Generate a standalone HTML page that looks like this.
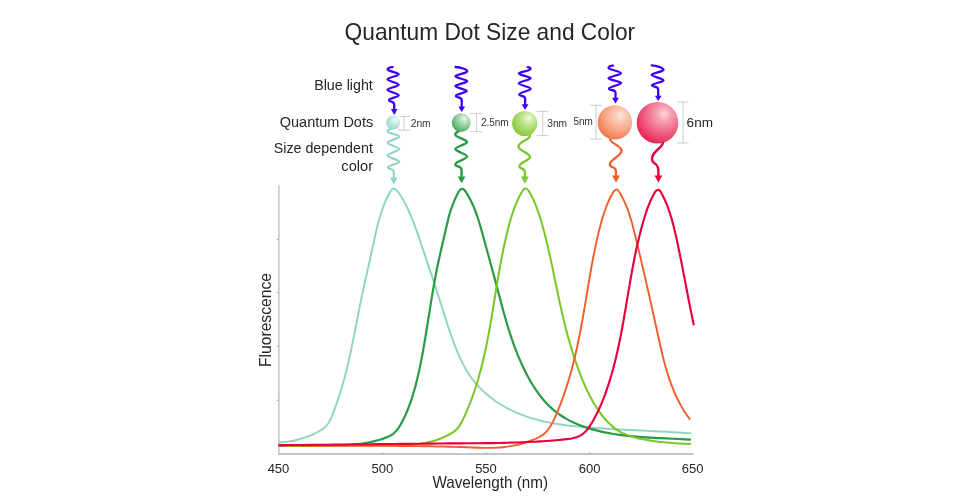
<!DOCTYPE html>
<html><head><meta charset="utf-8"><title>Quantum Dot Size and Color</title>
<style>
html,body{margin:0;padding:0;background:#fff;}
body{width:980px;height:500px;overflow:hidden;}
svg{display:block;}
text{font-family:"Liberation Sans",sans-serif;fill:#262626;}
.sm text{fill:#363636;}
</style></head><body>
<svg width="980" height="500" viewBox="0 0 980 500">
<defs>
<radialGradient id="gT" cx="0.64" cy="0.32" r="0.82" fx="0.66" fy="0.29"><stop offset="0" stop-color="#f2fbf9"/><stop offset="0.25" stop-color="#d3efe9"/><stop offset="0.6" stop-color="#b3e2d8"/><stop offset="0.85" stop-color="#9cd9cb"/><stop offset="1" stop-color="#8fd4c5"/></radialGradient>
<radialGradient id="gG" cx="0.64" cy="0.32" r="0.82" fx="0.66" fy="0.29"><stop offset="0" stop-color="#ecf7ee"/><stop offset="0.25" stop-color="#b9e0c0"/><stop offset="0.58" stop-color="#7fc58d"/><stop offset="0.85" stop-color="#47a95e"/><stop offset="1" stop-color="#2a9a47"/></radialGradient>
<radialGradient id="gL" cx="0.64" cy="0.32" r="0.82" fx="0.66" fy="0.29"><stop offset="0" stop-color="#f4fbe8"/><stop offset="0.22" stop-color="#cdeaa5"/><stop offset="0.55" stop-color="#a6d96a"/><stop offset="0.82" stop-color="#8bcd40"/><stop offset="1" stop-color="#7ac528"/></radialGradient>
<radialGradient id="gO" cx="0.64" cy="0.32" r="0.84" fx="0.66" fy="0.29"><stop offset="0" stop-color="#fee8dd"/><stop offset="0.22" stop-color="#fbc7b2"/><stop offset="0.55" stop-color="#f7a283"/><stop offset="0.82" stop-color="#f27b52"/><stop offset="1" stop-color="#ee5d2c"/></radialGradient>
<radialGradient id="gR" cx="0.64" cy="0.32" r="0.84" fx="0.66" fy="0.29"><stop offset="0" stop-color="#fcd9e0"/><stop offset="0.22" stop-color="#f59db2"/><stop offset="0.55" stop-color="#ee5f80"/><stop offset="0.82" stop-color="#e82c59"/><stop offset="1" stop-color="#e20a40"/></radialGradient>
</defs>
<rect width="980" height="500" fill="#fff"/>
<text x="344.6" y="40.4" font-size="23.6" textLength="290.6" lengthAdjust="spacingAndGlyphs">Quantum Dot Size and Color</text>
<g font-size="14.7" lengthAdjust="spacingAndGlyphs">
<text x="314.2" y="90.4" textLength="58.6" lengthAdjust="spacingAndGlyphs">Blue light</text>
<text x="279.8" y="126.5" textLength="93.4" lengthAdjust="spacingAndGlyphs">Quantum Dots</text>
<text x="273.7" y="153.0" textLength="99.2" lengthAdjust="spacingAndGlyphs">Size dependent</text>
<text x="341.3" y="170.5" textLength="31.8" lengthAdjust="spacingAndGlyphs">color</text>
</g>
<g font-size="10" class="sm">
<text x="410.7" y="126.6" textLength="20" lengthAdjust="spacingAndGlyphs">2nm</text>
<text x="480.9" y="126.0" textLength="27.8" lengthAdjust="spacingAndGlyphs">2.5nm</text>
<text x="547.3" y="126.6" textLength="19.8" lengthAdjust="spacingAndGlyphs">3nm</text>
<text x="573.4" y="125.2" textLength="19.4" lengthAdjust="spacingAndGlyphs">5nm</text>
</g>
<text x="686.6" y="127" font-size="13" textLength="26.4" lengthAdjust="spacingAndGlyphs">6nm</text>
<path d="M278.9 185.3V454.8" fill="none" stroke="#b6b6b6" stroke-width="1.2"/><path d="M278.3 454.1H693.4" fill="none" stroke="#b2b2b2" stroke-width="1.5"/>
<path d="M276.6 239.4H278.9M276.6 292.6H278.9M276.6 346.2H278.9M276.6 400.3H278.9M382.4 452.2V454.1M486.2 452.2V454.1M589.8 452.2V454.1" stroke="#999" stroke-width="0.8" fill="none"/>
<path d="M278.50 442.64C280.62 442.48 282.68 442.28 284.71 442.03C286.73 441.79 288.72 441.50 290.68 441.16C292.65 440.82 294.59 440.42 296.52 439.97C298.46 439.51 300.39 439.00 302.32 438.41C304.26 437.82 306.20 437.17 308.13 436.45C310.05 435.72 311.95 434.94 313.80 434.08C315.64 433.23 317.44 432.30 319.16 431.26C320.89 430.22 322.55 429.06 324.13 427.73C325.70 426.40 327.18 424.91 328.32 423.30C329.45 421.70 330.28 419.98 331.09 418.18C331.90 416.37 332.66 414.47 333.39 412.53C334.12 410.60 334.83 408.63 335.51 406.68C336.20 404.72 336.88 402.78 337.53 400.84C338.19 398.91 338.83 396.98 339.45 395.05C340.07 393.12 340.68 391.20 341.26 389.27C341.85 387.34 342.42 385.41 342.98 383.47C343.53 381.53 344.07 379.59 344.59 377.64C345.12 375.70 345.62 373.75 346.12 371.79C346.61 369.84 347.09 367.88 347.56 365.91C348.03 363.95 348.49 361.98 348.94 360.01C349.39 358.05 349.82 356.07 350.25 354.10C350.68 352.12 351.10 350.14 351.52 348.16C351.93 346.18 352.34 344.20 352.74 342.22C353.14 340.23 353.53 338.25 353.93 336.26C354.32 334.28 354.71 332.29 355.09 330.30C355.48 328.31 355.87 326.32 356.25 324.33C356.63 322.34 357.02 320.35 357.40 318.36C357.79 316.37 358.17 314.38 358.56 312.40C358.95 310.41 359.34 308.42 359.74 306.43C360.13 304.45 360.54 302.46 360.94 300.48C361.35 298.49 361.76 296.51 362.18 294.53C362.60 292.55 363.03 290.57 363.46 288.60C363.89 286.62 364.33 284.64 364.77 282.67C365.21 280.70 365.65 278.72 366.10 276.75C366.54 274.78 366.99 272.81 367.43 270.83C367.88 268.86 368.33 266.89 368.77 264.92C369.22 262.95 369.66 260.97 370.10 259.00C370.54 257.03 370.97 255.05 371.40 253.08C371.83 251.10 372.25 249.13 372.67 247.15C373.09 245.17 373.51 243.20 373.94 241.22C374.36 239.24 374.79 237.27 375.23 235.30C375.67 233.33 376.12 231.36 376.59 229.39C377.06 227.43 377.54 225.47 378.05 223.52C378.56 221.56 379.10 219.62 379.66 217.68C380.23 215.74 380.82 213.81 381.46 211.88C382.09 209.96 382.76 208.05 383.47 206.15C384.19 204.25 384.94 202.36 385.76 200.50C386.57 198.64 387.44 196.81 388.37 195.03C389.31 193.25 390.30 191.49 391.53 189.82C392.76 188.15 395.09 188.64 396.49 190.14C397.89 191.64 399.11 193.25 400.23 194.93C401.35 196.60 402.37 198.35 403.35 200.12C404.33 201.90 405.26 203.70 406.17 205.52C407.07 207.33 407.93 209.17 408.77 211.02C409.60 212.86 410.41 214.72 411.19 216.58C411.97 218.45 412.72 220.32 413.46 222.20C414.19 224.08 414.90 225.97 415.60 227.87C416.29 229.77 416.97 231.67 417.64 233.58C418.30 235.48 418.96 237.39 419.61 239.31C420.26 241.22 420.90 243.14 421.53 245.06C422.17 246.98 422.81 248.90 423.45 250.82C424.09 252.75 424.73 254.67 425.37 256.59C426.01 258.51 426.66 260.43 427.30 262.35C427.95 264.27 428.60 266.20 429.24 268.12C429.89 270.04 430.54 271.96 431.18 273.88C431.82 275.80 432.47 277.73 433.11 279.65C433.75 281.57 434.38 283.49 435.02 285.42C435.65 287.34 436.28 289.26 436.90 291.18C437.52 293.11 438.14 295.03 438.75 296.96C439.36 298.88 439.97 300.80 440.57 302.73C441.18 304.65 441.78 306.58 442.38 308.50C442.98 310.43 443.58 312.35 444.19 314.27C444.79 316.20 445.40 318.12 446.02 320.04C446.63 321.96 447.25 323.88 447.88 325.80C448.51 327.72 449.15 329.64 449.80 331.56C450.45 333.47 451.12 335.39 451.79 337.30C452.47 339.21 453.16 341.12 453.88 343.03C454.59 344.94 455.32 346.84 456.08 348.73C456.83 350.62 457.62 352.51 458.43 354.37C459.24 356.24 460.08 358.09 460.96 359.92C461.83 361.75 462.74 363.56 463.70 365.34C464.65 367.13 465.64 368.88 466.68 370.61C467.72 372.34 468.81 374.04 469.94 375.70C471.08 377.36 472.27 378.99 473.51 380.57C474.75 382.16 476.05 383.70 477.40 385.21C478.76 386.71 480.16 388.17 481.61 389.59C483.05 391.01 484.55 392.39 486.08 393.72C487.62 395.05 489.20 396.34 490.81 397.59C492.42 398.83 494.07 400.04 495.75 401.19C497.42 402.35 499.13 403.46 500.87 404.53C502.60 405.59 504.36 406.61 506.14 407.59C507.92 408.56 509.72 409.49 511.54 410.37C513.36 411.25 515.19 412.08 517.04 412.87C518.89 413.66 520.75 414.41 522.63 415.11C524.51 415.82 526.40 416.49 528.31 417.11C530.21 417.74 532.13 418.33 534.06 418.89C535.99 419.44 537.93 419.97 539.89 420.45C541.84 420.94 543.80 421.40 545.77 421.83C547.74 422.26 549.72 422.65 551.71 423.03C553.70 423.40 555.69 423.74 557.69 424.07C559.70 424.39 561.70 424.69 563.72 424.96C565.73 425.24 567.75 425.50 569.77 425.74C571.79 425.98 573.81 426.20 575.84 426.40C577.87 426.61 579.90 426.80 581.93 426.97C583.96 427.15 585.99 427.32 588.02 427.47C590.05 427.63 592.08 427.77 594.11 427.91C596.14 428.05 598.17 428.19 600.19 428.31C602.22 428.44 604.24 428.57 606.26 428.69C608.28 428.81 610.30 428.92 612.31 429.04C614.33 429.15 616.34 429.26 618.36 429.37C620.37 429.47 622.38 429.58 624.39 429.68C626.41 429.79 628.42 429.89 630.43 429.99C632.44 430.09 634.45 430.19 636.46 430.29C638.47 430.39 640.48 430.48 642.49 430.58C644.50 430.68 646.51 430.78 648.53 430.88C650.54 430.98 652.55 431.08 654.57 431.19C656.58 431.29 658.60 431.39 660.62 431.50C662.64 431.60 664.66 431.71 666.69 431.83C668.71 431.94 670.74 432.05 672.77 432.17C674.79 432.29 676.83 432.41 678.86 432.54C680.90 432.66 682.94 432.79 684.98 432.93C687.03 433.06 689.07 433.20 691.12 433.35" fill="none" stroke="#8fd4c5" stroke-width="1.95" stroke-linecap="butt" stroke-linejoin="round"/>
<path d="M278.62 445.84C280.64 445.68 282.66 445.56 284.68 445.46C286.71 445.36 288.73 445.28 290.76 445.23C292.78 445.17 294.81 445.14 296.84 445.12C298.87 445.10 300.90 445.10 302.93 445.11C304.96 445.12 306.99 445.14 309.02 445.16C311.05 445.18 313.08 445.21 315.11 445.24C317.14 445.27 319.17 445.30 321.20 445.32C323.23 445.34 325.25 445.36 327.28 445.37C329.31 445.37 331.34 445.37 333.36 445.35C335.39 445.33 337.41 445.30 339.43 445.25C341.45 445.19 343.47 445.11 345.49 445.01C347.51 444.91 349.52 444.78 351.54 444.62C353.55 444.46 355.56 444.27 357.57 444.05C359.57 443.82 361.58 443.56 363.58 443.25C365.58 442.95 367.58 442.60 369.57 442.21C371.56 441.82 373.55 441.38 375.54 440.89C377.53 440.39 379.51 439.85 381.47 439.22C383.43 438.59 385.38 437.88 387.29 437.06C389.20 436.25 391.02 435.35 392.58 434.30C394.13 433.25 395.56 431.79 396.86 430.18C398.16 428.56 399.32 426.83 400.37 425.04C401.43 423.26 402.39 421.43 403.30 419.59C404.20 417.76 405.06 415.92 405.86 414.07C406.67 412.22 407.44 410.36 408.18 408.49C408.91 406.61 409.61 404.72 410.28 402.82C410.96 400.92 411.60 399.00 412.21 397.08C412.83 395.15 413.42 393.22 413.98 391.28C414.54 389.33 415.08 387.38 415.60 385.42C416.12 383.46 416.62 381.50 417.10 379.52C417.58 377.55 418.04 375.57 418.48 373.59C418.93 371.61 419.36 369.63 419.77 367.64C420.19 365.65 420.60 363.66 420.99 361.67C421.39 359.68 421.77 357.69 422.15 355.69C422.52 353.70 422.89 351.70 423.25 349.71C423.61 347.71 423.96 345.72 424.30 343.72C424.65 341.72 424.98 339.72 425.32 337.72C425.65 335.72 425.98 333.72 426.30 331.72C426.63 329.72 426.95 327.72 427.27 325.72C427.59 323.71 427.91 321.71 428.22 319.71C428.54 317.71 428.85 315.71 429.17 313.70C429.49 311.70 429.80 309.70 430.12 307.70C430.44 305.70 430.76 303.70 431.08 301.70C431.41 299.70 431.74 297.70 432.07 295.70C432.40 293.70 432.74 291.71 433.08 289.71C433.42 287.71 433.77 285.72 434.13 283.72C434.49 281.73 434.85 279.74 435.23 277.75C435.60 275.76 435.98 273.77 436.38 271.78C436.77 269.79 437.17 267.80 437.59 265.82C438.00 263.84 438.42 261.85 438.85 259.87C439.28 257.89 439.72 255.91 440.16 253.93C440.61 251.95 441.06 249.97 441.51 247.99C441.96 246.01 442.42 244.04 442.88 242.06C443.34 240.08 443.80 238.10 444.26 236.13C444.72 234.15 445.18 232.17 445.64 230.19C446.10 228.21 446.56 226.24 447.02 224.26C447.48 222.28 447.93 220.30 448.41 218.33C448.89 216.36 449.41 214.41 449.99 212.48C450.57 210.55 451.22 208.65 451.92 206.76C452.63 204.88 453.39 203.00 454.18 201.12C454.98 199.25 455.81 197.36 456.70 195.55C457.59 193.74 458.54 192.02 459.70 190.26C460.87 188.51 463.13 188.39 464.45 190.00C465.77 191.62 466.81 193.35 467.83 195.09C468.86 196.83 469.82 198.60 470.72 200.40C471.62 202.20 472.47 204.03 473.27 205.88C474.07 207.74 474.82 209.61 475.53 211.51C476.24 213.40 476.92 215.31 477.56 217.24C478.20 219.16 478.82 221.10 479.41 223.05C480.00 225.00 480.57 226.96 481.12 228.92C481.68 230.88 482.22 232.85 482.76 234.82C483.30 236.79 483.83 238.75 484.37 240.72C484.90 242.68 485.44 244.64 485.98 246.60C486.51 248.56 487.05 250.52 487.58 252.48C488.12 254.43 488.66 256.39 489.19 258.34C489.72 260.29 490.26 262.25 490.79 264.20C491.32 266.15 491.85 268.10 492.38 270.06C492.91 272.01 493.44 273.96 493.97 275.91C494.49 277.86 495.02 279.82 495.54 281.77C496.06 283.73 496.58 285.68 497.09 287.64C497.61 289.59 498.13 291.55 498.64 293.51C499.16 295.46 499.68 297.42 500.20 299.38C500.71 301.34 501.24 303.29 501.76 305.25C502.29 307.20 502.82 309.16 503.36 311.11C503.90 313.06 504.44 315.01 505.00 316.96C505.55 318.90 506.12 320.85 506.69 322.79C507.27 324.73 507.85 326.66 508.45 328.60C509.05 330.53 509.66 332.46 510.29 334.38C510.91 336.30 511.56 338.22 512.22 340.13C512.88 342.05 513.55 343.95 514.25 345.85C514.94 347.75 515.66 349.65 516.40 351.53C517.13 353.42 517.89 355.30 518.68 357.17C519.46 359.04 520.26 360.90 521.10 362.76C521.93 364.61 522.78 366.46 523.67 368.29C524.55 370.13 525.47 371.96 526.41 373.77C527.35 375.59 528.32 377.40 529.33 379.19C530.33 380.97 531.37 382.75 532.44 384.50C533.52 386.25 534.62 387.97 535.77 389.67C536.91 391.36 538.09 393.03 539.31 394.65C540.53 396.28 541.80 397.87 543.10 399.42C544.40 400.97 545.75 402.47 547.14 403.93C548.53 405.38 549.96 406.79 551.45 408.13C552.93 409.48 554.46 410.77 556.04 412.00C557.62 413.22 559.25 414.39 560.92 415.49C562.59 416.60 564.30 417.65 566.06 418.64C567.81 419.63 569.60 420.57 571.41 421.45C573.23 422.33 575.08 423.17 576.96 423.95C578.84 424.74 580.74 425.48 582.66 426.17C584.58 426.86 586.52 427.51 588.47 428.12C590.42 428.73 592.39 429.30 594.36 429.83C596.33 430.36 598.31 430.86 600.29 431.32C602.28 431.78 604.26 432.21 606.25 432.61C608.24 433.01 610.24 433.38 612.23 433.72C614.23 434.06 616.23 434.37 618.23 434.66C620.24 434.95 622.24 435.22 624.25 435.46C626.26 435.70 628.27 435.93 630.29 436.13C632.30 436.33 634.32 436.52 636.33 436.69C638.35 436.86 640.37 437.01 642.39 437.15C644.41 437.30 646.43 437.43 648.46 437.55C650.48 437.67 652.51 437.78 654.53 437.88C656.56 437.99 658.58 438.09 660.61 438.18C662.63 438.28 664.66 438.37 666.69 438.46C668.71 438.55 670.74 438.64 672.77 438.73C674.79 438.83 676.82 438.92 678.84 439.02C680.87 439.12 682.89 439.23 684.92 439.35C686.94 439.46 688.96 439.59 690.98 439.72" fill="none" stroke="#2a9a47" stroke-width="2.20" stroke-linecap="butt" stroke-linejoin="round"/>
<path d="M278.53 445.56C280.58 445.62 282.63 445.68 284.67 445.72C286.72 445.77 288.76 445.80 290.80 445.83C292.84 445.86 294.88 445.88 296.91 445.89C298.95 445.90 300.98 445.91 303.01 445.91C305.04 445.91 307.08 445.90 309.11 445.89C311.13 445.88 313.16 445.86 315.19 445.84C317.22 445.82 319.24 445.80 321.27 445.77C323.29 445.75 325.32 445.72 327.34 445.69C329.37 445.66 331.39 445.63 333.42 445.59C335.44 445.56 337.47 445.53 339.49 445.50C341.52 445.47 343.54 445.44 345.57 445.41C347.59 445.38 349.62 445.35 351.65 445.33C353.67 445.30 355.70 445.28 357.73 445.27C359.76 445.25 361.79 445.24 363.82 445.23C365.85 445.22 367.89 445.22 369.92 445.23C371.96 445.23 374.00 445.24 376.04 445.26C378.07 445.28 380.12 445.30 382.16 445.33C384.20 445.36 386.25 445.39 388.29 445.41C390.33 445.43 392.37 445.44 394.41 445.44C396.45 445.44 398.49 445.42 400.52 445.37C402.56 445.33 404.59 445.26 406.61 445.16C408.63 445.06 410.65 444.93 412.66 444.75C414.67 444.57 416.68 444.36 418.67 444.09C420.67 443.82 422.65 443.51 424.63 443.13C426.61 442.76 428.57 442.33 430.52 441.83C432.47 441.33 434.41 440.77 436.32 440.13C438.24 439.49 440.13 438.79 442.00 438.00C443.88 437.21 445.72 436.35 447.54 435.39C449.36 434.44 451.15 433.40 452.88 432.30C454.61 431.20 456.17 430.01 457.41 428.48C458.64 426.95 459.84 425.21 460.89 423.41C461.94 421.61 462.84 419.76 463.71 417.91C464.58 416.05 465.42 414.19 466.24 412.32C467.06 410.45 467.85 408.57 468.62 406.68C469.39 404.80 470.14 402.91 470.86 401.01C471.58 399.11 472.28 397.21 472.96 395.30C473.64 393.39 474.29 391.47 474.93 389.55C475.56 387.63 476.18 385.70 476.78 383.77C477.37 381.84 477.95 379.90 478.51 377.96C479.07 376.01 479.62 374.06 480.14 372.11C480.67 370.16 481.18 368.20 481.67 366.24C482.17 364.28 482.65 362.32 483.12 360.35C483.58 358.38 484.04 356.40 484.48 354.43C484.92 352.45 485.35 350.47 485.76 348.49C486.18 346.51 486.59 344.52 486.98 342.53C487.38 340.54 487.77 338.55 488.15 336.56C488.52 334.56 488.89 332.56 489.26 330.57C489.62 328.57 489.98 326.57 490.33 324.57C490.68 322.56 491.02 320.56 491.36 318.55C491.70 316.55 492.04 314.54 492.37 312.54C492.70 310.53 493.03 308.52 493.36 306.51C493.69 304.50 494.01 302.49 494.34 300.48C494.66 298.47 494.99 296.46 495.31 294.45C495.64 292.44 495.97 290.44 496.29 288.43C496.62 286.42 496.95 284.41 497.29 282.40C497.62 280.39 497.96 278.39 498.30 276.38C498.64 274.38 498.99 272.37 499.34 270.37C499.70 268.37 500.06 266.37 500.42 264.37C500.79 262.37 501.16 260.37 501.55 258.38C501.93 256.38 502.32 254.39 502.72 252.40C503.12 250.41 503.54 248.42 503.96 246.44C504.38 244.46 504.82 242.48 505.26 240.50C505.71 238.52 506.17 236.55 506.64 234.58C507.12 232.61 507.61 230.64 508.11 228.68C508.61 226.72 509.13 224.76 509.68 222.81C510.22 220.86 510.79 218.91 511.38 216.98C511.98 215.04 512.60 213.11 513.26 211.20C513.92 209.28 514.62 207.37 515.36 205.48C516.09 203.58 516.88 201.71 517.72 199.86C518.56 198.01 519.46 196.18 520.44 194.40C521.43 192.63 522.37 190.88 523.77 189.27C525.18 187.66 527.33 188.98 528.48 190.66C529.63 192.35 530.62 194.10 531.56 195.90C532.50 197.70 533.36 199.54 534.18 201.40C534.99 203.26 535.75 205.14 536.47 207.04C537.19 208.94 537.88 210.85 538.53 212.77C539.18 214.69 539.81 216.62 540.41 218.56C541.01 220.50 541.58 222.44 542.14 224.39C542.69 226.34 543.23 228.30 543.75 230.26C544.27 232.22 544.78 234.19 545.27 236.16C545.77 238.13 546.25 240.10 546.73 242.07C547.20 244.04 547.67 246.02 548.13 248.00C548.59 249.98 549.03 251.96 549.48 253.94C549.92 255.92 550.36 257.91 550.79 259.89C551.22 261.88 551.64 263.86 552.06 265.85C552.48 267.84 552.90 269.83 553.32 271.82C553.73 273.81 554.15 275.80 554.56 277.79C554.97 279.78 555.38 281.77 555.79 283.76C556.20 285.75 556.62 287.74 557.03 289.73C557.44 291.72 557.86 293.70 558.28 295.69C558.70 297.68 559.12 299.67 559.55 301.65C559.98 303.64 560.41 305.62 560.85 307.60C561.29 309.58 561.74 311.56 562.19 313.54C562.65 315.52 563.11 317.49 563.58 319.46C564.05 321.44 564.53 323.41 565.02 325.37C565.51 327.34 566.02 329.30 566.53 331.26C567.04 333.22 567.57 335.18 568.11 337.13C568.65 339.09 569.20 341.04 569.76 342.98C570.33 344.93 570.91 346.87 571.50 348.81C572.09 350.75 572.70 352.68 573.32 354.61C573.94 356.54 574.58 358.47 575.23 360.39C575.88 362.32 576.55 364.23 577.23 366.15C577.92 368.06 578.62 369.97 579.34 371.88C580.05 373.78 580.79 375.68 581.54 377.58C582.30 379.47 583.08 381.36 583.88 383.23C584.68 385.11 585.50 386.97 586.35 388.82C587.21 390.67 588.09 392.51 589.00 394.32C589.92 396.14 590.86 397.94 591.85 399.71C592.83 401.49 593.85 403.24 594.91 404.97C595.97 406.70 597.08 408.40 598.22 410.07C599.37 411.74 600.56 413.39 601.80 415.00C603.04 416.60 604.33 418.18 605.67 419.71C607.01 421.23 608.41 422.71 609.87 424.11C611.33 425.51 612.85 426.84 614.44 428.07C616.03 429.30 617.69 430.44 619.42 431.46C621.15 432.48 622.96 433.38 624.83 434.17C626.69 434.97 628.62 435.67 630.58 436.29C632.54 436.91 634.53 437.45 636.54 437.93C638.55 438.41 640.58 438.84 642.60 439.24C644.62 439.63 646.63 439.99 648.64 440.32C650.65 440.65 652.65 440.95 654.65 441.23C656.65 441.50 658.65 441.75 660.65 441.97C662.65 442.20 664.65 442.40 666.65 442.58C668.65 442.77 670.66 442.93 672.68 443.08C674.69 443.22 676.72 443.35 678.75 443.47C680.78 443.58 682.83 443.69 684.88 443.78C686.94 443.87 689.01 443.96 691.09 444.03" fill="none" stroke="#7bc62b" stroke-width="2.05" stroke-linecap="butt" stroke-linejoin="round"/>
<path d="M278.61 445.55C280.63 445.56 282.65 445.58 284.67 445.60C286.68 445.61 288.70 445.63 290.72 445.64C292.74 445.65 294.76 445.66 296.77 445.67C298.79 445.68 300.81 445.69 302.83 445.70C304.85 445.71 306.87 445.71 308.89 445.72C310.91 445.72 312.92 445.73 314.94 445.73C316.96 445.74 318.98 445.74 321.00 445.74C323.02 445.75 325.04 445.75 327.06 445.75C329.08 445.75 331.10 445.75 333.12 445.76C335.14 445.76 337.16 445.76 339.18 445.76C341.20 445.76 343.22 445.76 345.24 445.76C347.26 445.76 349.28 445.76 351.30 445.77C353.32 445.77 355.34 445.77 357.36 445.77C359.38 445.77 361.40 445.78 363.42 445.78C365.44 445.78 367.46 445.79 369.48 445.79C371.50 445.79 373.52 445.80 375.54 445.81C377.56 445.81 379.58 445.82 381.60 445.83C383.62 445.84 385.64 445.84 387.66 445.86C389.68 445.87 391.70 445.88 393.72 445.89C395.74 445.90 397.76 445.92 399.78 445.93C401.79 445.95 403.81 445.97 405.83 445.99C407.85 446.01 409.87 446.03 411.89 446.05C413.91 446.07 415.93 446.10 417.95 446.13C419.97 446.15 421.99 446.18 424.01 446.21C426.02 446.24 428.04 446.28 430.06 446.31C432.08 446.35 434.10 446.39 436.12 446.43C438.13 446.47 440.15 446.51 442.17 446.56C444.19 446.60 446.20 446.65 448.22 446.70C450.24 446.75 452.26 446.81 454.27 446.87C456.29 446.92 458.31 446.98 460.32 447.05C462.34 447.11 464.36 447.18 466.37 447.25C468.39 447.32 470.40 447.39 472.42 447.47C474.43 447.55 476.45 447.62 478.47 447.69C480.48 447.76 482.50 447.81 484.52 447.85C486.54 447.88 488.56 447.89 490.59 447.86C492.62 447.84 494.64 447.77 496.68 447.66C498.71 447.55 500.75 447.39 502.78 447.19C504.81 446.98 506.83 446.73 508.84 446.42C510.85 446.12 512.84 445.76 514.81 445.35C516.77 444.95 518.72 444.48 520.63 443.97C522.54 443.45 524.43 442.88 526.32 442.25C528.22 441.62 530.14 440.93 532.09 440.19C534.04 439.45 536.00 438.64 537.87 437.74C539.73 436.84 541.48 435.85 543.04 434.72C544.59 433.59 545.99 432.29 547.29 430.71C548.60 429.12 549.80 427.33 550.86 425.55C551.92 423.77 552.86 421.96 553.73 420.14C554.61 418.31 555.42 416.47 556.22 414.63C557.02 412.78 557.79 410.93 558.55 409.06C559.31 407.20 560.05 405.33 560.77 403.45C561.48 401.57 562.18 399.68 562.86 397.79C563.55 395.90 564.21 394.00 564.85 392.09C565.50 390.19 566.13 388.27 566.74 386.35C567.35 384.43 567.95 382.51 568.53 380.58C569.11 378.65 569.67 376.71 570.22 374.77C570.77 372.83 571.31 370.88 571.83 368.93C572.35 366.98 572.86 365.03 573.35 363.07C573.85 361.11 574.33 359.14 574.80 357.18C575.27 355.21 575.73 353.24 576.17 351.27C576.62 349.29 577.06 347.32 577.48 345.34C577.91 343.36 578.32 341.38 578.73 339.39C579.14 337.41 579.53 335.43 579.92 333.44C580.31 331.45 580.69 329.46 581.06 327.47C581.44 325.48 581.80 323.49 582.16 321.50C582.52 319.51 582.87 317.52 583.22 315.53C583.57 313.54 583.91 311.54 584.25 309.55C584.59 307.56 584.92 305.57 585.26 303.57C585.59 301.58 585.92 299.59 586.25 297.59C586.58 295.60 586.91 293.61 587.24 291.62C587.57 289.63 587.90 287.64 588.23 285.65C588.56 283.65 588.90 281.66 589.23 279.68C589.57 277.69 589.91 275.70 590.26 273.71C590.60 271.73 590.95 269.74 591.31 267.76C591.67 265.77 592.03 263.79 592.40 261.81C592.77 259.83 593.15 257.85 593.53 255.87C593.92 253.89 594.31 251.91 594.72 249.94C595.12 247.97 595.54 245.99 595.97 244.02C596.40 242.06 596.83 240.09 597.29 238.12C597.74 236.16 598.20 234.20 598.68 232.24C599.16 230.28 599.66 228.32 600.17 226.36C600.68 224.41 601.21 222.46 601.76 220.52C602.32 218.58 602.90 216.64 603.52 214.72C604.13 212.79 604.78 210.88 605.47 208.97C606.16 207.07 606.89 205.18 607.67 203.31C608.44 201.44 609.28 199.60 610.17 197.79C611.07 195.98 612.02 194.22 613.10 192.50C614.18 190.78 616.04 188.68 617.61 189.93C619.17 191.19 620.04 193.24 621.03 195.00C622.03 196.75 622.96 198.53 623.83 200.34C624.69 202.15 625.51 203.98 626.27 205.84C627.03 207.70 627.74 209.58 628.41 211.48C629.08 213.38 629.71 215.30 630.30 217.23C630.90 219.16 631.46 221.11 632.00 223.06C632.54 225.02 633.06 226.98 633.56 228.95C634.06 230.92 634.54 232.89 635.02 234.87C635.50 236.84 635.98 238.82 636.45 240.79C636.93 242.76 637.40 244.73 637.87 246.70C638.34 248.67 638.80 250.64 639.27 252.61C639.73 254.57 640.20 256.54 640.66 258.51C641.12 260.47 641.58 262.44 642.04 264.40C642.50 266.36 642.96 268.33 643.41 270.29C643.87 272.25 644.32 274.21 644.78 276.17C645.23 278.14 645.68 280.10 646.13 282.06C646.58 284.02 647.03 285.98 647.48 287.94C647.92 289.91 648.37 291.87 648.81 293.83C649.26 295.79 649.70 297.76 650.14 299.72C650.58 301.68 651.02 303.65 651.46 305.61C651.90 307.58 652.34 309.54 652.78 311.51C653.22 313.48 653.65 315.45 654.09 317.42C654.53 319.39 654.96 321.36 655.39 323.33C655.83 325.30 656.26 327.28 656.69 329.25C657.13 331.23 657.56 333.21 657.99 335.19C658.42 337.16 658.85 339.14 659.29 341.12C659.73 343.10 660.17 345.08 660.62 347.06C661.08 349.04 661.53 351.01 662.01 352.98C662.48 354.95 662.96 356.92 663.46 358.88C663.96 360.84 664.47 362.80 665.00 364.75C665.54 366.70 666.09 368.64 666.66 370.57C667.23 372.51 667.83 374.43 668.45 376.35C669.07 378.27 669.72 380.17 670.40 382.07C671.07 383.96 671.78 385.84 672.52 387.71C673.25 389.58 674.03 391.44 674.83 393.28C675.64 395.12 676.48 396.95 677.37 398.76C678.25 400.57 679.17 402.37 680.14 404.14C681.11 405.92 682.12 407.68 683.17 409.42C684.23 411.16 685.33 412.88 686.48 414.58C687.64 416.28 688.84 417.95 690.10 419.61" fill="none" stroke="#f15d26" stroke-width="1.90" stroke-linecap="butt" stroke-linejoin="round"/>
<path d="M278.62 445.11C280.64 445.10 282.67 445.09 284.69 445.08C286.72 445.07 288.75 445.06 290.77 445.04C292.80 445.03 294.83 445.02 296.85 445.00C298.88 444.99 300.91 444.97 302.93 444.96C304.96 444.94 306.99 444.92 309.02 444.91C311.04 444.89 313.07 444.87 315.10 444.85C317.13 444.84 319.15 444.82 321.18 444.80C323.21 444.78 325.24 444.76 327.27 444.74C329.29 444.72 331.32 444.70 333.35 444.67C335.38 444.65 337.41 444.63 339.43 444.61C341.46 444.59 343.49 444.57 345.52 444.54C347.55 444.52 349.58 444.50 351.61 444.48C353.63 444.45 355.66 444.43 357.69 444.41C359.72 444.38 361.75 444.36 363.78 444.33C365.81 444.31 367.84 444.29 369.86 444.26C371.89 444.24 373.92 444.22 375.95 444.19C377.98 444.17 380.01 444.14 382.04 444.12C384.07 444.10 386.09 444.07 388.12 444.05C390.15 444.02 392.18 444.00 394.21 443.98C396.24 443.95 398.27 443.93 400.30 443.91C402.32 443.88 404.35 443.86 406.38 443.84C408.41 443.82 410.44 443.79 412.47 443.77C414.49 443.75 416.52 443.73 418.55 443.71C420.58 443.69 422.61 443.67 424.63 443.64C426.66 443.62 428.69 443.60 430.72 443.58C432.75 443.57 434.77 443.55 436.80 443.53C438.83 443.51 440.86 443.49 442.88 443.47C444.91 443.46 446.94 443.44 448.97 443.42C450.99 443.41 453.02 443.39 455.05 443.38C457.07 443.36 459.10 443.35 461.13 443.34C463.15 443.32 465.18 443.31 467.21 443.29C469.23 443.28 471.26 443.27 473.28 443.25C475.31 443.23 477.34 443.22 479.36 443.20C481.39 443.18 483.42 443.16 485.44 443.13C487.47 443.11 489.50 443.09 491.52 443.06C493.55 443.03 495.58 443.00 497.61 442.96C499.63 442.92 501.66 442.88 503.69 442.84C505.72 442.79 507.75 442.74 509.78 442.69C511.80 442.64 513.83 442.58 515.86 442.51C517.89 442.45 519.92 442.37 521.96 442.30C523.99 442.22 526.02 442.14 528.05 442.04C530.08 441.95 532.11 441.85 534.15 441.75C536.18 441.64 538.22 441.53 540.25 441.40C542.29 441.28 544.32 441.15 546.36 441.01C548.39 440.87 550.43 440.72 552.46 440.56C554.49 440.40 556.52 440.22 558.54 440.04C560.56 439.85 562.58 439.65 564.58 439.44C566.58 439.23 568.58 439.02 570.55 438.70C572.53 438.39 574.48 437.96 576.40 437.29C578.31 436.62 580.22 435.67 581.93 434.54C583.64 433.41 585.08 432.15 586.40 430.62C587.72 429.08 588.93 427.29 590.04 425.58C591.15 423.86 592.18 422.18 593.18 420.44C594.19 418.70 595.17 416.91 596.11 415.10C597.05 413.28 597.96 411.44 598.83 409.59C599.69 407.74 600.52 405.88 601.31 404.00C602.11 402.12 602.87 400.24 603.60 398.34C604.34 396.44 605.04 394.54 605.72 392.63C606.41 390.71 607.07 388.80 607.71 386.87C608.35 384.95 608.97 383.02 609.57 381.09C610.17 379.16 610.75 377.22 611.32 375.28C611.88 373.33 612.43 371.39 612.96 369.43C613.49 367.48 614.01 365.53 614.50 363.57C615.00 361.61 615.49 359.64 615.96 357.67C616.43 355.71 616.89 353.74 617.33 351.76C617.78 349.79 618.21 347.81 618.63 345.83C619.05 343.85 619.47 341.87 619.87 339.88C620.27 337.89 620.66 335.91 621.05 333.92C621.43 331.92 621.81 329.93 622.18 327.94C622.55 325.94 622.91 323.95 623.27 321.95C623.62 319.95 623.97 317.95 624.32 315.95C624.67 313.95 625.02 311.95 625.36 309.95C625.70 307.95 626.04 305.94 626.37 303.94C626.71 301.94 627.05 299.93 627.38 297.93C627.72 295.93 628.06 293.92 628.40 291.92C628.73 289.91 629.07 287.91 629.42 285.91C629.76 283.91 630.10 281.90 630.45 279.90C630.80 277.90 631.16 275.90 631.52 273.91C631.88 271.91 632.24 269.91 632.61 267.91C632.98 265.92 633.36 263.93 633.75 261.93C634.14 259.94 634.53 257.95 634.94 255.97C635.34 253.98 635.76 252.00 636.19 250.01C636.61 248.03 637.05 246.05 637.50 244.08C637.95 242.10 638.41 240.13 638.89 238.16C639.36 236.19 639.85 234.23 640.36 232.26C640.86 230.30 641.38 228.35 641.92 226.39C642.45 224.44 643.01 222.49 643.58 220.54C644.15 218.60 644.74 216.66 645.35 214.73C645.97 212.79 646.61 210.87 647.29 208.96C647.97 207.05 648.69 205.16 649.47 203.29C650.24 201.41 651.06 199.56 651.96 197.73C652.85 195.90 653.79 194.12 654.86 192.41C655.94 190.69 657.95 188.85 659.40 190.28C660.86 191.72 661.75 193.66 662.70 195.45C663.65 197.24 664.49 199.09 665.30 200.95C666.11 202.81 666.87 204.69 667.59 206.58C668.31 208.47 668.98 210.38 669.62 212.30C670.26 214.23 670.86 216.16 671.43 218.10C672.00 220.05 672.54 222.01 673.05 223.97C673.57 225.93 674.06 227.90 674.53 229.88C675.01 231.86 675.46 233.84 675.91 235.82C676.35 237.81 676.78 239.79 677.21 241.78C677.64 243.76 678.06 245.75 678.47 247.74C678.89 249.73 679.30 251.71 679.70 253.70C680.11 255.69 680.51 257.68 680.90 259.66C681.30 261.65 681.69 263.64 682.08 265.63C682.47 267.62 682.86 269.61 683.24 271.60C683.63 273.59 684.01 275.58 684.39 277.57C684.78 279.56 685.16 281.55 685.54 283.54C685.92 285.53 686.30 287.52 686.68 289.51C687.07 291.50 687.45 293.49 687.83 295.48C688.22 297.47 688.60 299.46 688.99 301.45C689.38 303.44 689.77 305.43 690.17 307.42C690.56 309.41 690.96 311.40 691.36 313.39C691.77 315.38 692.17 317.37 692.59 319.36C693.00 321.35 693.42 323.34 693.84 325.33" fill="none" stroke="#e6003c" stroke-width="2.15" stroke-linecap="butt" stroke-linejoin="round"/>
<path d="M398.5 116.4H410.0M398.5 130.1H410.0M404.0 116.4V130.1" stroke="#a2a2ae" stroke-width="0.55" fill="none"/>
<path d="M470.0 113.4H482.3M470.0 131.7H482.3M476.6 113.4V131.7" stroke="#a2a2ae" stroke-width="0.55" fill="none"/>
<path d="M536.4 111.3H548.6M536.4 135.6H548.6M542.7 111.3V135.6" stroke="#a2a2ae" stroke-width="0.55" fill="none"/>
<path d="M590.0 105.3H602.0M590.0 139.1H602.0M596.0 105.3V139.1" stroke="#a2a2ae" stroke-width="0.55" fill="none"/>
<path d="M677.4 102.1H688.6M677.4 143.0H688.6M683.0 102.1V143.0" stroke="#a2a2ae" stroke-width="0.55" fill="none"/>
<path d="M392.60 67.10C390.50 66.70 387.50 68.25 387.50 69.40C387.50 71.07 398.70 72.63 398.70 74.30C398.70 75.97 387.50 77.53 387.50 79.20C387.50 81.10 398.70 82.90 398.70 84.80C398.70 86.47 387.50 88.03 387.50 89.70C387.50 91.60 398.70 93.40 398.70 95.30C398.70 96.90 389.00 98.40 389.00 100.00C389.00 102.42 394.20 100.66 394.20 104.40L394.20 109.40" fill="none" stroke="#3d00f5" stroke-width="2.3" stroke-linecap="round" stroke-linejoin="round"/><path d="M390.90 108.90 L397.50 108.90 L394.20 115.10 Z" fill="#3d00f5"/>
<path d="M455.60 67.00C460.00 67.40 467.30 69.20 467.30 71.40C467.30 73.07 455.40 74.63 455.40 76.30C455.40 77.97 467.30 79.53 467.30 81.20C467.30 82.87 455.40 84.43 455.40 86.10C455.40 87.77 466.80 89.33 466.80 91.00C466.80 92.60 455.90 94.10 455.90 95.70C455.90 98.06 461.70 96.34 461.70 100.00L461.70 106.90" fill="none" stroke="#3d00f5" stroke-width="2.3" stroke-linecap="round" stroke-linejoin="round"/><path d="M458.30 106.40 L465.10 106.40 L461.70 112.00 Z" fill="#3d00f5"/>
<path d="M527.60 67.10C529.50 67.10 530.50 68.20 530.50 69.30C530.50 70.69 518.80 72.01 518.80 73.40C518.80 75.07 530.70 76.63 530.70 78.30C530.70 79.97 518.80 81.53 518.80 83.20C518.80 85.10 530.70 86.90 530.70 88.80C530.70 90.64 519.30 92.36 519.30 94.20C519.30 96.56 525.10 94.84 525.10 98.50L525.10 104.70" fill="none" stroke="#3d00f5" stroke-width="2.3" stroke-linecap="round" stroke-linejoin="round"/><path d="M521.70 104.20 L528.50 104.20 L525.10 109.80 Z" fill="#3d00f5"/>
<path d="M613.00 65.60C610.50 65.40 608.50 66.65 608.50 67.70C608.50 69.60 621.10 71.40 621.10 73.30C621.10 74.97 608.50 76.53 608.50 78.20C608.50 79.87 621.10 81.43 621.10 83.10C621.10 84.90 609.00 86.60 609.00 88.40C609.00 90.82 615.50 89.06 615.50 92.80L615.50 98.30" fill="none" stroke="#3d00f5" stroke-width="2.3" stroke-linecap="round" stroke-linejoin="round"/><path d="M612.10 97.80 L618.90 97.80 L615.50 103.40 Z" fill="#3d00f5"/>
<path d="M651.80 65.30C656.00 65.70 663.50 67.60 663.50 69.90C663.50 71.57 651.60 73.13 651.60 74.80C651.60 76.70 663.50 78.50 663.50 80.40C663.50 82.00 652.00 83.50 652.00 85.10C652.00 87.47 658.20 85.75 658.20 89.40L658.20 96.30" fill="none" stroke="#3d00f5" stroke-width="2.3" stroke-linecap="round" stroke-linejoin="round"/><path d="M654.80 95.80 L661.60 95.80 L658.20 101.00 Z" fill="#3d00f5"/>
<path d="M391.50 128.80C389.50 129.00 387.70 130.10 387.70 131.40C387.70 133.13 399.20 134.77 399.20 136.50C399.20 138.64 387.70 140.66 387.70 142.80C387.70 144.94 399.20 146.96 399.20 149.10C399.20 151.28 387.70 153.32 387.70 155.50C387.70 157.64 399.20 159.66 399.20 161.80C399.20 163.64 388.00 165.36 388.00 167.20C388.00 169.84 393.80 167.92 393.80 172.00L393.80 177.90" fill="none" stroke="#8fd4c5" stroke-width="2.2" stroke-linecap="round" stroke-linejoin="round"/><path d="M390.00 177.40 L397.60 177.40 L393.80 184.60 Z" fill="#8fd4c5"/>
<path d="M458.50 131.40C456.50 132.00 455.30 133.10 455.30 134.80C455.30 137.21 467.00 139.49 467.00 141.90C467.00 144.35 455.30 146.65 455.30 149.10C455.30 151.58 467.00 153.92 467.00 156.40C467.00 159.05 455.30 161.55 455.30 164.20C455.30 167.56 461.60 165.11 461.60 170.30L461.60 177.10" fill="none" stroke="#2a9a47" stroke-width="2.4" stroke-linecap="round" stroke-linejoin="round"/><path d="M457.70 176.60 L465.50 176.60 L461.60 183.20 Z" fill="#2a9a47"/>
<path d="M530.10 135.50C530.00 140.00 518.40 141.15 518.40 146.80C518.40 150.23 530.00 153.47 530.00 156.90C530.00 159.99 519.30 162.91 519.30 166.00C519.30 169.63 524.90 166.99 524.90 172.60L524.90 176.90" fill="none" stroke="#7bc62b" stroke-width="2.3" stroke-linecap="round" stroke-linejoin="round"/><path d="M521.00 176.40 L528.80 176.40 L524.90 183.70 Z" fill="#7bc62b"/>
<path d="M610.00 139.00C610.50 144.00 621.60 145.00 621.60 151.00C621.60 155.56 609.80 159.84 609.80 164.40C609.80 168.31 616.00 165.47 616.00 171.50L616.00 176.10" fill="none" stroke="#f15d26" stroke-width="2.2" stroke-linecap="round" stroke-linejoin="round"/><path d="M612.10 175.60 L619.90 175.60 L616.00 182.70 Z" fill="#f15d26"/>
<path d="M663.00 142.50C663.00 148.00 652.00 150.65 652.00 158.80C652.00 165.78 658.40 160.71 658.40 171.50L658.40 175.90" fill="none" stroke="#e6003c" stroke-width="2.4" stroke-linecap="round" stroke-linejoin="round"/><path d="M654.50 175.40 L662.30 175.40 L658.40 182.60 Z" fill="#e6003c"/>
<circle cx="393.1" cy="122.6" r="7" fill="url(#gT)"/>
<circle cx="461.2" cy="122.6" r="9.4" fill="url(#gG)"/>
<circle cx="524.7" cy="123.5" r="12.6" fill="url(#gL)"/>
<circle cx="614.9" cy="122.4" r="17.2" fill="url(#gO)"/>
<circle cx="657.5" cy="122.7" r="20.8" fill="url(#gR)"/>
<g font-size="13" text-anchor="middle">
<text x="278.5" y="473.3">450</text>
<text x="382.4" y="473.3">500</text>
<text x="486" y="473.3">550</text>
<text x="589.7" y="473.3">600</text>
<text x="692.6" y="473.3">650</text>
</g>
<text x="432.4" y="487.7" font-size="16.4" textLength="115.6" lengthAdjust="spacingAndGlyphs">Wavelength (nm)</text>
<text transform="translate(270.9 367.1) rotate(-90)" font-size="16.4" textLength="94.2" lengthAdjust="spacingAndGlyphs">Fluorescence</text>
</svg>
</body></html>
